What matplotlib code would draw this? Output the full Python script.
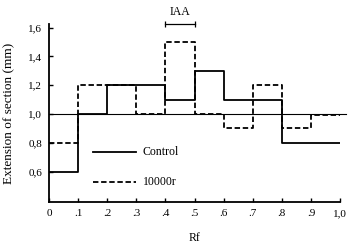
import matplotlib
matplotlib.use('Agg')
import matplotlib.pyplot as plt
import numpy as np

plt.rcParams.update({
    "font.family": ["Liberation Serif", "DejaVu Serif"],
    "font.size": 8,
})

# ----------------------------------------------------------------------------------------------------------------------
rf_edges = [0.0, 0.1, 0.2, 0.3, 0.4, 0.5, 0.6, 0.7, 0.8, 0.9, 1.0]
control = [0.6, 1.0, 1.2, 1.2, 1.1, 1.3, 1.1, 1.1, 0.8, 0.8]
irradiated = [0.8, 1.2, 1.2, 1.0, 1.5, 1.0, 0.9, 1.2, 0.9, 0.99]

xticks = [0.0, 0.1, 0.2, 0.3, 0.4, 0.5, 0.6, 0.7, 0.8, 0.9, 1.0]
xticklabels = ['0', '.1', '.2', '.3', '.4', '.5', '.6', '.7', '.8', '.9', '1,0']
yticks = [0.6, 0.8, 1.0, 1.2, 1.4, 1.6]
yticklabels = ['0,6', '0,8', '1,0', '1,2', '1,4', '1,6']

fig = plt.figure(figsize=(3.48, 2.44), dpi=100)
ax = fig.add_axes([0.141, 0.172, 0.836, 0.730])

ax.plot([0, 1.02], [1.0, 1.0], color='black', lw=0.8, clip_on=False)

ax.step(rf_edges, control + [control[-1]], where='post', color='black', lw=1.3)
ax.step(rf_edges, irradiated + [irradiated[-1]], where='post', color='black', lw=1.3,
        linestyle=(0, (3, 1.5)))

# IAA marker
ax.plot([0.4, 0.5], [1.625, 1.625], color='black', lw=0.9, clip_on=False,
        marker='|', markersize=4, markeredgewidth=0.9)
ax.text(0.45, 1.665, 'IAA', ha='center', va='bottom', fontsize=8.5)

# hand-drawn legend
ax.plot([0.15, 0.30], [0.738, 0.738], color='black', lw=1.3)
ax.text(0.322, 0.738, 'Control', va='center', fontsize=8.5)
ax.plot([0.15, 0.30], [0.531, 0.531], color='black', lw=1.3, linestyle=(0, (3, 1.5)))
ax.text(0.322, 0.531, '10000r', va='center', fontsize=8.5)

ax.set_xlim(0, 1.0)
ax.set_ylim(0.39, 1.625)
ax.set_xticks(xticks)
ax.set_xticklabels(xticklabels)
ax.set_yticks(yticks)
ax.set_yticklabels(yticklabels)
ax.tick_params(direction='in', length=3, width=1, pad=5)
for side in ['top', 'right']:
    ax.spines[side].set_visible(False)
for side in ['left', 'bottom']:
    ax.spines[side].set_linewidth(1.3)

ax.set_xlabel('Rf', labelpad=10, fontsize=8.5)
ax.set_ylabel('Extension of section (mm)', labelpad=9, fontsize=9.5)

fig.savefig('out.png', dpi=100)
